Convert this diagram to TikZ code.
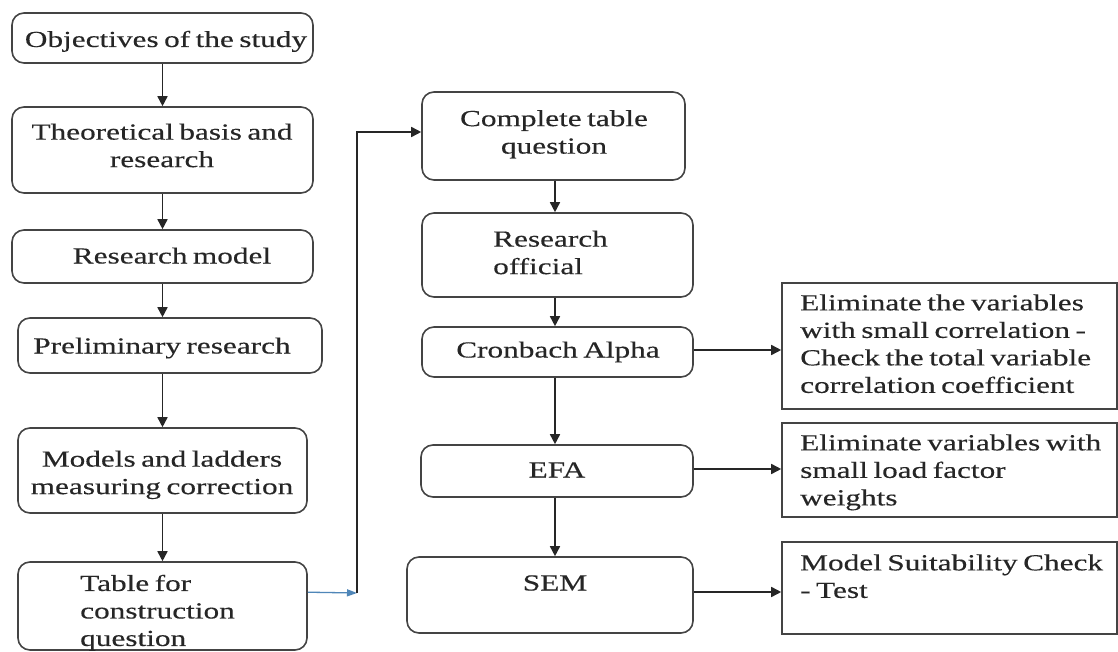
\documentclass[tikz,border=0pt]{standalone}
\usepackage{fontspec}
\setmainfont{Liberation Serif}[FakeStretch=1.36,WordSpace=0.7,FakeBold=0.3]
\usetikzlibrary{arrows.meta}
\definecolor{ink}{HTML}{262626}
\definecolor{edge}{HTML}{444444}
\definecolor{link}{HTML}{4F86B8}
\begin{document}
\begin{tikzpicture}[x=1pt,y=-1pt,
  rbox/.style={draw=edge, line width=1.6pt, rounded corners=12pt, inner sep=0pt},
  sbox/.style={draw=edge, line width=1.6pt, inner sep=0pt},
  txt/.style={text=ink, inner sep=0pt, font=\fontsize{23}{27.5}\selectfont,
    execute at begin node=\strut, execute at end node=\strut},
  arr/.style={draw=black!85, line width=1.6pt, -{Triangle[length=10pt,width=10pt]}},
  barr/.style={draw=link, line width=1.3pt, -{Triangle[length=10pt,width=7pt]}}]
\useasboundingbox[fill=white] (0,0) rectangle (1118,652);

% left column
\node[rbox, minimum width=301pt, minimum height=50pt] (obj)  at (162.5,38) {};
\node[rbox, minimum width=301pt, minimum height=86pt] (theo) at (162.5,150) {};
\node[rbox, minimum width=301pt, minimum height=53pt] (rmod) at (162.5,256.5) {};
\node[rbox, minimum width=304pt, minimum height=55pt] (prel) at (170,345.5) {};
\node[rbox, minimum width=289pt, minimum height=85pt] (mlad) at (162.5,470.5) {};
\node[rbox, minimum width=289pt, minimum height=88pt] (tab)  at (162.5,606) {};

\node[txt] (tobj) at (166,41.5) {Objectives of the study};
\node[txt, align=center] (ttheo) at (162,149.5) {Theoretical basis and\\research};
\node[txt] (trmod) at (172,258) {Research model};
\node[txt] (tprel) at (162,348) {Preliminary research};
\node[txt, align=center] (tmlad) at (162,476.5) {Models and ladders\\measuring correction};
\node[txt, align=left, anchor=west] (ttab) at (80,614.5) {Table for\\construction\\question};

% right column
\node[rbox, minimum width=263pt, minimum height=88pt] (comp) at (553.5,136) {};
\node[rbox, minimum width=271pt, minimum height=84pt] (roff) at (557.5,255) {};
\node[rbox, minimum width=271pt, minimum height=50pt] (cron) at (557.5,352) {};
\node[rbox, minimum width=272pt, minimum height=52pt] (efa)  at (557,471) {};
\node[rbox, minimum width=286pt, minimum height=76pt] (sem)  at (550,595) {};

\node[txt, align=center] (tcomp) at (554,136) {Complete table\\question};
\node[txt, align=left, anchor=west] (troff) at (493,256.5) {Research\\official};
\node[txt] (tcron) at (558,352) {Cronbach Alpha};
\node[txt] (tefa) at (557,472) {EFA};
\node[txt] (tsem) at (555,585) {SEM};

% outcome boxes
\node[sbox, minimum width=335pt, minimum height=126pt] (b1) at (949.5,346) {};
\node[sbox, minimum width=335pt, minimum height=94pt]  (b2) at (949.5,470) {};
\node[sbox, minimum width=335pt, minimum height=92pt]  (b3) at (949.5,588) {};

\node[txt, align=left, anchor=west] (tb1) at (800,347.75) {Eliminate the variables\\with small correlation -\\Check the total variable\\correlation coefficient};
\node[txt, align=left, anchor=west] (tb2) at (800,474) {Eliminate variables with\\small load factor\\weights};
\node[txt, align=left, anchor=west] (tb3) at (800,580.25) {Model Suitability Check\\- Test};

% connectors left
\draw[arr] (obj.south) -- (theo.north);
\draw[arr] (theo.south) -- (rmod.north);
\draw[arr] (rmod.south) -- (rmod.south |- prel.north);
\draw[arr] (prel.south -| mlad.north) -- (mlad.north);
\draw[arr] (mlad.south) -- (tab.north);

% link to right column
\coordinate (j) at (357,593);
\draw[barr] ([yshift=-31pt]tab.north east) -- (j);
\draw[arr] (j) |- ([yshift=4pt]comp.west);

% connectors right
\draw[arr] ([xshift=1.5pt]comp.south) -- ([xshift=1.5pt]comp.south |- roff.north);
\draw[arr] ([xshift=-2.5pt]roff.south) -- ([xshift=-2.5pt]roff.south |- cron.north);
\draw[arr] ([xshift=-2.5pt]cron.south) -- ([xshift=-2.5pt]cron.south |- efa.north);
\draw[arr] ([xshift=-2pt]efa.south) -- ([xshift=-2pt]efa.south |- sem.north);

\draw[arr] ([yshift=2pt]cron.east) -- ([yshift=2pt]cron.east -| b1.west);
\draw[arr] ([yshift=2pt]efa.east) -- ([yshift=2pt]efa.east -| b2.west);
\draw[arr] ([yshift=3pt]sem.east) -- ([yshift=3pt]sem.east -| b3.west);
\end{tikzpicture}
\end{document}
